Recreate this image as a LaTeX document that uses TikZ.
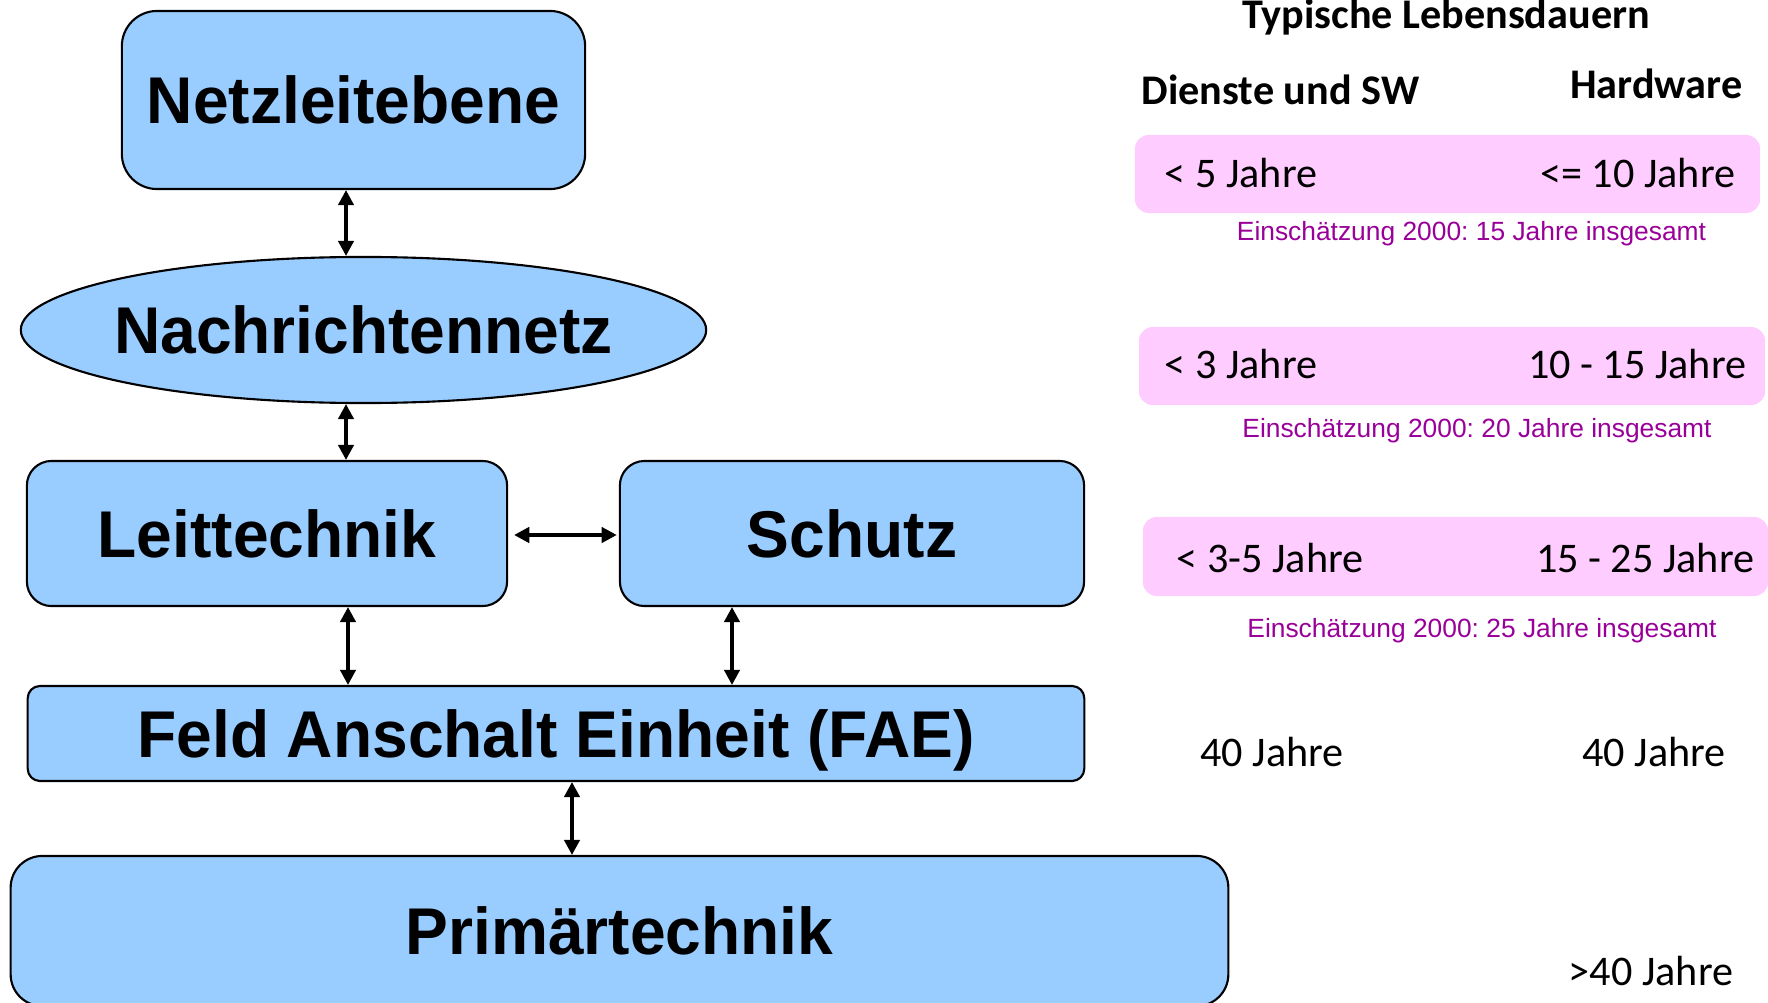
\documentclass[tikz,border=0pt]{standalone}
\usepackage{fontspec}
\setmainfont{Liberation Sans}
\newfontfamily\bigfont[FakeStretch=0.97]{Liberation Sans}
\newfontfamily\carl{Carlito}
\usetikzlibrary{arrows.meta,shapes.geometric}
\definecolor{boxblue}{HTML}{99CCFF}
\definecolor{boxpink}{HTML}{FFCCFF}
\definecolor{notepurple}{HTML}{990099}
\frenchspacing
\begin{document}
\begin{tikzpicture}[x=0.01cm,y=-0.01cm,
  blk/.style={draw=black,line width=0.6pt,fill=boxblue,inner sep=0pt,
    text height=13.4pt,text depth=0pt,
    font=\bigfont\bfseries\fontsize{18.8}{20}\selectfont},
  pinkbox/.style={fill=boxpink,draw=none,rounded corners=4pt,inner sep=0pt},
  hdr/.style={inner sep=0pt,font=\carl\bfseries\fontsize{12}{14}\selectfont},
  yrs/.style={inner sep=0pt,font=\carl\fontsize{12}{14}\selectfont},
  note/.style={inner sep=0pt,text=notepurple,font=\fontsize{7.5}{9}\selectfont},
  arr/.style={<->,>={Triangle[length=4.3pt,width=4.4pt]},line width=0.9pt}]
\useasboundingbox (0,0) rectangle (1768,1003);

% left diagram
\node[blk,rounded corners=10pt,minimum width=4.63cm,minimum height=1.78cm] (netz) at (353.5,100) {Netzleitebene};
\node[blk,ellipse,inner xsep=-15pt,minimum width=6.85cm,minimum height=1.46cm] (nach) at (363.5,330) {Nachrichtennetz};
\node[blk,rounded corners=7pt,minimum width=4.80cm,minimum height=1.45cm] (leit) at (267,533.5) {Leittechnik};
\node[blk,rounded corners=7pt,minimum width=4.64cm,minimum height=1.45cm] (schutz) at (852,533.5) {Schutz};
\node[blk,rounded corners=3.5pt,minimum width=10.56cm,minimum height=0.95cm] (fae) at (556,733.5) {Feld Anschalt Einheit (FAE)};
\node[blk,rounded corners=9pt,minimum width=12.17cm,minimum height=1.50cm] (prim) at (619.5,931) {Primärtechnik};

\coordinate (xa) at (346,0);
\coordinate (xb) at (348,0);
\coordinate (xc) at (732,0);
\coordinate (xd) at (572,0);
\coordinate (ya) at (0,535);
\draw[arr] (netz.south -| xa) -- (nach.north -| xa);
\draw[arr] (nach.south -| xa) -- (leit.north -| xa);
\draw[arr,shorten <=1.7pt,shorten >=0.6pt] (leit.east |- ya) -- (schutz.west |- ya);
\draw[arr] (leit.south -| xb) -- (fae.north -| xb);
\draw[arr] (schutz.south -| xc) -- (fae.north -| xc);
\draw[arr] (fae.south -| xd) -- (prim.north -| xd);

% right side
\node[hdr,anchor=base] (title) at (1446,28) {Typische Lebensdauern};
\node[hdr,anchor=base west] (dsw) at (1141,104) {Dienste und SW};
\node[hdr,anchor=base east] (hw) at (1743,99) {Hardware};

\node[pinkbox,minimum width=6.25cm,minimum height=0.78cm] (p1) at (1447.5,174) {};
\node[yrs,anchor=base west] (p1l) at (1164,187) {< 5 Jahre};
\node[yrs,anchor=base east] (p1r) at (1736,187) {<= 10 Jahre};
\node[note,anchor=base] (n1) at (1471.5,240) {Einschätzung 2000: 15 Jahre insgesamt};

\node[pinkbox,minimum width=6.26cm,minimum height=0.78cm] (p2) at (1452,366) {};
\node[yrs,anchor=base west] (p2l) at (1164,378) {< 3 Jahre};
\node[yrs,anchor=base east] (p2r) at (1747,378) {10 - 15 Jahre};
\node[note,anchor=base] (n2) at (1477,437) {Einschätzung 2000: 20 Jahre insgesamt};

\node[pinkbox,minimum width=6.25cm,minimum height=0.79cm] (p3) at (1455.5,556.5) {};
\node[yrs,anchor=base west] (p3l) at (1176,572) {< 3-5 Jahre};
\node[yrs,anchor=base east] (p3r) at (1755,572) {15 - 25 Jahre};
\node[note,anchor=base] (n3) at (1482,637) {Einschätzung 2000: 25 Jahre insgesamt};

\node[yrs,anchor=base] (y1) at (1272,766) {40 Jahre};
\node[yrs,anchor=base] (y2) at (1654,766) {40 Jahre};
\node[yrs,anchor=base] (y3) at (1651,985) {>40 Jahre};
\end{tikzpicture}
\end{document}
